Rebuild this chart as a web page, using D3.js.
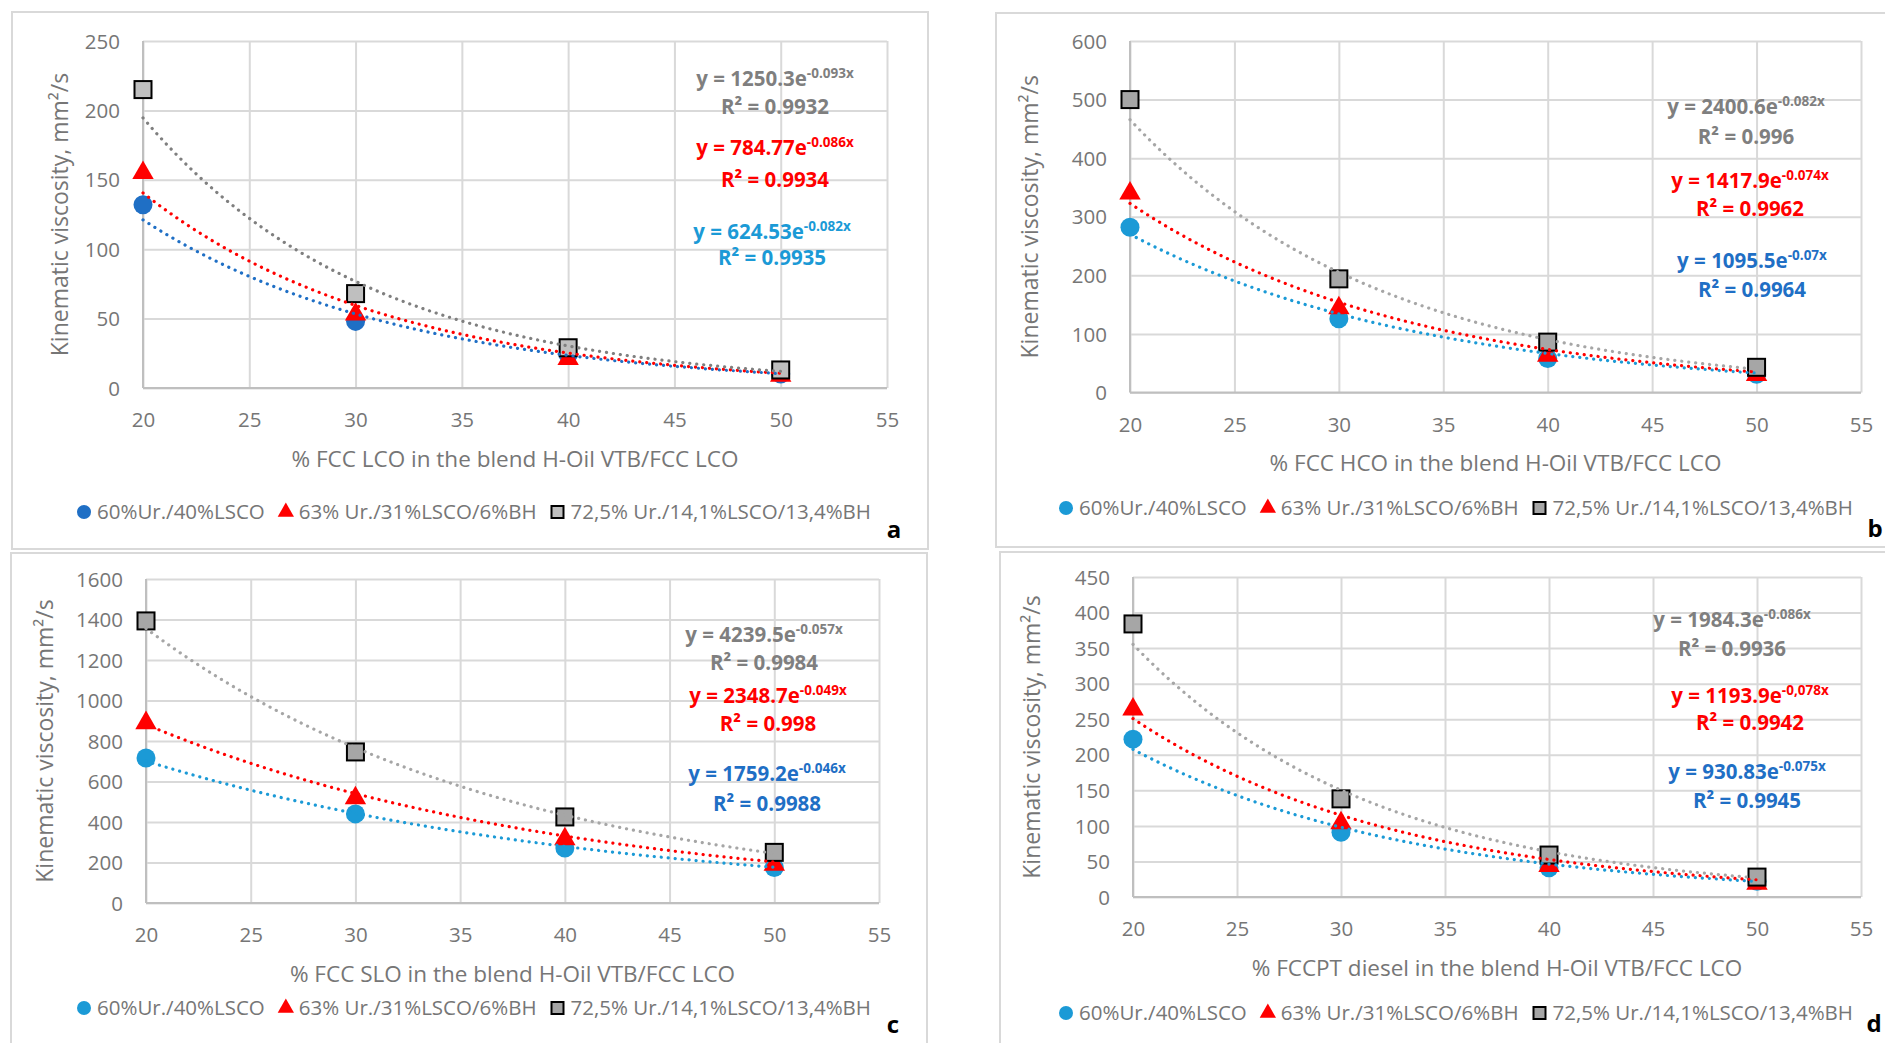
<!DOCTYPE html>
<html>
<head>
<meta charset="utf-8">
<script src="https://cdn.jsdelivr.net/npm/d3@7"></script>
<style>
body { margin: 0; background: #fff; }
text { font-family: "Open Sans", sans-serif; }
</style>
</head>
<body>
<svg id="chart"></svg>
<script>
// values (x = % of cutter stock in the blend)
const xPct = [20, 30, 40, 50];
const xTicks = [20, 25, 30, 35, 40, 45, 50, 55];
const seriesNames = ["60%Ur./40%LSCO", "63% Ur./31%LSCO/6%BH", "72,5% Ur./14,1%LSCO/13,4%BH"];

// a - FCC LCO
const lcoUr60 = [132, 48, 24, 10];
const lcoUr63 = [155, 53, 21, 9];
const lcoUr72 = [215, 68, 29, 13];
const lcoFitA = [624.53, 784.77, 1250.3];
const lcoFitK = [-0.082, -0.086, -0.093];
const lcoExp = ["-0.082x", "-0.086x", "-0.093x"];
const lcoR2 = ["0.9935", "0.9934", "0.9932"];
const lcoTicks = [0, 50, 100, 150, 200, 250];

// b - FCC HCO
const hcoUr60 = [282, 126, 58, 31];
const hcoUr63 = [340, 144, 63, 30];
const hcoUr72 = [500, 194, 86, 43];
const hcoFitA = [1095.5, 1417.9, 2400.6];
const hcoFitK = [-0.07, -0.074, -0.082];
const hcoExp = ["-0.07x", "-0.074x", "-0.082x"];
const hcoR2 = ["0.9964", "0.9962", "0.996"];
const hcoTicks = [0, 100, 200, 300, 400, 500, 600];

// c - FCC SLO
const sloUr60 = [716, 440, 272, 175];
const sloUr63 = [889, 518, 316, 190];
const sloUr72 = [1393, 746, 425, 250];
const sloFitA = [1759.2, 2348.7, 4239.5];
const sloFitK = [-0.046, -0.049, -0.057];
const sloExp = ["-0.046x", "-0.049x", "-0.057x"];
const sloR2 = ["0.9988", "0.998", "0.9984"];
const sloTicks = [0, 200, 400, 600, 800, 1000, 1200, 1400, 1600];

// d - FCCPT diesel
const dslUr60 = [222, 91, 41, 22];
const dslUr63 = [264, 104, 44, 19];
const dslUr72 = [384, 138, 59, 28];
const dslFitA = [930.83, 1193.9, 1984.3];
const dslFitK = [-0.075, -0.078, -0.086];
const dslExp = ["-0.075x", "-0,078x", "-0.086x"];
const dslR2 = ["0.9945", "0.9942", "0.9936"];
const dslTicks = [0, 50, 100, 150, 200, 250, 300, 350, 400, 450];

const W = 1885, H = 1043;
const RED = "#ff0000", LBLUE = "#1b9ad6", DBLUE = "#1f6fc5";

// layout of every panel (pixel boxes only)
const panels = [
	{ tag: "a", series: [lcoUr60, lcoUr63, lcoUr72], fa: lcoFitA, fk: lcoFitK, ex: lcoExp, r2: lcoR2, ticks: lcoTicks,
	  xTitle: "% FCC LCO in the blend H-Oil VTB/FCC LCO",
	  frame: [12, 12, 928, 549], px: [143, 887], py: [41, 388], yTitleX: 60, legY: 512, legX: 474,
	  eqX: [772, 775, 775], eqY: [[232, 258], [148, 180], [79, 107]], tagXY: [894, 530],
	  mBlue: DBLUE, lBlue: DBLUE, eBlue: LBLUE, gFill: "#bfbfbf", gLine: "#7f7f7f" },
	{ tag: "b", series: [hcoUr60, hcoUr63, hcoUr72], fa: hcoFitA, fk: hcoFitK, ex: hcoExp, r2: hcoR2, ticks: hcoTicks,
	  xTitle: "% FCC HCO in the blend H-Oil VTB/FCC LCO",
	  frame: [996, 13, 1920, 547], px: [1130, 1861], py: [41, 392.5], yTitleX: 1030, legY: 508, legX: 1456,
	  eqX: [1752, 1750, 1746], eqY: [[261, 290], [181, 209], [107, 137]], tagXY: [1875, 529],
	  mBlue: LBLUE, lBlue: LBLUE, eBlue: DBLUE, gFill: "#a6a6a6", gLine: "#a6a6a6" },
	{ tag: "c", series: [sloUr60, sloUr63, sloUr72], fa: sloFitA, fk: sloFitK, ex: sloExp, r2: sloR2, ticks: sloTicks,
	  xTitle: "% FCC SLO in the blend H-Oil VTB/FCC LCO",
	  frame: [11, 553, 927, 1070], px: [146, 879], py: [579, 903], yTitleX: 45, legY: 1008, legX: 474,
	  eqX: [767, 768, 764], eqY: [[774, 804], [696, 724], [635, 663]], tagXY: [893, 1025],
	  mBlue: LBLUE, lBlue: LBLUE, eBlue: DBLUE, gFill: "#a6a6a6", gLine: "#a6a6a6" },
	{ tag: "d", series: [dslUr60, dslUr63, dslUr72], fa: dslFitA, fk: dslFitK, ex: dslExp, r2: dslR2, ticks: dslTicks,
	  xTitle: "% FCCPT diesel in the blend H-Oil VTB/FCC LCO",
	  frame: [1000, 552, 1920, 1070], px: [1133, 1861], py: [577, 897], yTitleX: 1032, legY: 1013, legX: 1456,
	  eqX: [1747, 1750, 1732], eqY: [[772, 801], [696, 723], [620, 649]], tagXY: [1874, 1024],
	  mBlue: LBLUE, lBlue: LBLUE, eBlue: DBLUE, gFill: "#a6a6a6", gLine: "#a6a6a6" }
];

const svg = d3.select("#chart").attr("width", W).attr("height", H);
svg.append("rect").attr("width", W).attr("height", H).attr("fill", "#fff");

function marker(g, i, p, size) {
	// 0 circle, 1 triangle, 2 square
	if (i == 0) {
		g.append("circle").attr("r", size / 2).attr("fill", p.mBlue);
	} else if (i == 1) {
		g.append("path").attr("d", d3.symbol(d3.symbolTriangle, size * size * 0.45)())
			.attr("fill", RED);
	} else {
		g.append("rect").attr("x", -size / 2 + 1).attr("y", -size / 2 + 1)
			.attr("width", size - 2).attr("height", size - 2)
			.attr("fill", p.gFill).attr("stroke", "#000").attr("stroke-width", 2);
	}
}

function drawPanel(p) {
	const g = svg.append("g");
	const x = d3.scaleLinear().domain([20, 55]).range(p.px);
	const y = d3.scaleLinear().domain([0, d3.max(p.ticks)]).range([p.py[1], p.py[0]]);

	g.append("rect")
		.attr("x", p.frame[0]).attr("y", p.frame[1])
		.attr("width", p.frame[2] - p.frame[0]).attr("height", p.frame[3] - p.frame[1])
		.attr("fill", "#fff").attr("stroke", "#d9d9d9").attr("stroke-width", 2);

	// grid + tick labels
	const ya = g.append("g").attr("transform", `translate(${p.px[0]},0)`)
		.call(d3.axisLeft(y).tickValues(p.ticks).tickFormat(d3.format("d"))
			.tickSize(-(p.px[1] - p.px[0])).tickPadding(23));
	const xa = g.append("g").attr("transform", `translate(0,${p.py[1]})`)
		.call(d3.axisBottom(x).tickValues(xTicks).tickFormat(d3.format("d"))
			.tickSize(-(p.py[1] - p.py[0])));
	[ya, xa].forEach(a => {
		a.select(".domain").remove();
		a.selectAll("line").attr("stroke", "#d9d9d9").attr("stroke-width", 2);
		a.selectAll("text").attr("fill", "#767676").attr("font-size", 20.5)
			.attr("font-family", "Open Sans");
	});
	ya.selectAll("text").attr("dy", "0.35em");
	xa.selectAll("text").attr("y", 32).attr("dy", "0.35em");

	// axis lines
	g.append("line").attr("x1", p.px[0]).attr("x2", p.px[0]).attr("y1", p.py[0]).attr("y2", p.py[1])
		.attr("stroke", "#bfbfbf").attr("stroke-width", 2);
	g.append("line").attr("x1", p.px[0]).attr("x2", p.px[1]).attr("y1", p.py[1]).attr("y2", p.py[1])
		.attr("stroke", "#bfbfbf").attr("stroke-width", 2);

	// markers
	p.series.forEach((vals, i) => {
		vals.forEach((v, j) => {
			const m = g.append("g").attr("transform", `translate(${x(xPct[j])},${y(v)})`);
			marker(m, i, p, i == 1 ? 21 : 19);
		});
	});

	// exponential trendlines from the printed fit
	const lineCols = [p.lBlue, RED, p.gLine];
	const line = d3.line().x(d => x(d[0])).y(d => y(d[1]));
	p.fa.forEach((a, i) => {
		const pts = d3.range(20, 50.001, 0.25).map(t => [t, a * Math.exp(p.fk[i] * t)]);
		g.append("path").attr("d", line(pts)).attr("fill", "none")
			.attr("stroke", lineCols[i]).attr("stroke-width", 3.2)
			.attr("stroke-linecap", "round").attr("stroke-dasharray", "0.1 6.9");
	});

	// equations
	const eqCols = [p.eBlue, RED, "#7f7f7f"];
	p.fa.forEach((a, i) => {
		const t = g.append("text").attr("x", p.eqX[i]).attr("y", p.eqY[i][0]).attr("dy", "0.35em")
			.attr("text-anchor", "middle").attr("font-weight", "bold").attr("font-size", 20.5)
			.attr("fill", eqCols[i]);
		t.append("tspan").text("y = " + a + "e");
		t.append("tspan").attr("font-size", 13.5).attr("dy", -8).text(p.ex[i]);
		g.append("text").attr("x", p.eqX[i]).attr("y", p.eqY[i][1]).attr("dy", "0.35em")
			.attr("text-anchor", "middle").attr("font-weight", "bold").attr("font-size", 20.5)
			.attr("fill", eqCols[i]).text("R\u00b2 = " + p.r2[i]);
	});

	// titles
	g.append("text").attr("x", (p.px[0] + p.px[1]) / 2).attr("y", p.py[1] + 71).attr("dy", "0.35em")
		.attr("text-anchor", "middle").attr("font-size", 22.5).attr("fill", "#767676").text(p.xTitle);
	g.append("text")
		.attr("transform", `translate(${p.yTitleX},${(p.py[0] + p.py[1]) / 2}) rotate(-90)`)
		.attr("dy", "0.35em").attr("text-anchor", "middle").attr("font-size", 23).attr("fill", "#767676")
		.text("Kinematic viscosity, mm\u00b2/s");

	// legend
	const lg = g.append("g");
	let cx = 0;
	seriesNames.forEach((name, i) => {
		const m = lg.append("g").attr("transform", `translate(${cx},0)`);
		marker(m, i, p, i == 1 ? 16 : 14);
		const tx = lg.append("text").attr("x", cx + 13).attr("dy", "0.35em")
			.attr("font-size", 20.5).attr("fill", "#767676").text(name);
		cx += 13 + tx.node().getComputedTextLength() + (i < 2 ? 21 : 0);
	});
	const lw = cx + 7;
	lg.attr("transform", `translate(${p.legX - lw / 2 + 7},${p.legY})`);

	g.append("text").attr("x", p.tagXY[0]).attr("y", p.tagXY[1]).attr("dy", "0.35em")
		.attr("text-anchor", "middle").attr("font-weight", "bold").attr("font-size", 24)
		.attr("fill", "#000").text(p.tag);
}

panels.forEach(drawPanel);
</script>
</body>
</html>
